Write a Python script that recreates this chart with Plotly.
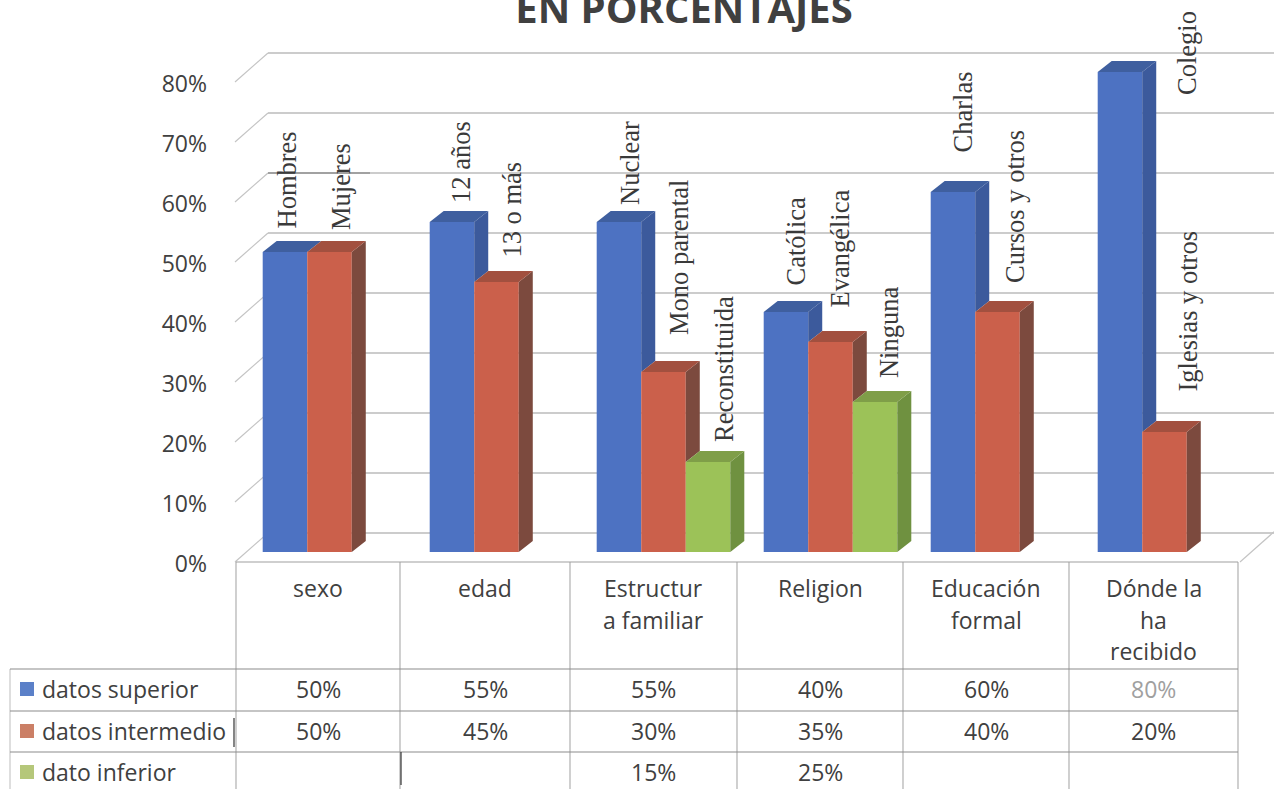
import plotly.graph_objects as go

# ---- data ----
categories = [["sexo"], ["edad"], ["Estructur", "a familiar"], ["Religion"],
              ["Educación", "formal"], ["Dónde la", "ha", "recibido"]]
series_names = ["datos superior", "datos intermedio", "dato inferior"]
superior = [50, 55, 55, 40, 60, 80]
intermedio = [50, 45, 30, 35, 40, 20]
inferior = [None, None, 15, 25, None, None]
labels_superior = ["Hombres", "12 años", "Nuclear", "Católica", "Charlas", "Colegio"]
labels_intermedio = ["Mujeres", "13 o más", "Mono parental", "Evangélica", "Cursos y otros", "Iglesias y otros"]
labels_inferior = [None, None, "Reconstituida", "Ninguna", None, None]
y_ticks = [0, 10, 20, 30, 40, 50, 60, 70, 80]

# ---- styling / layout constants ----
W, H = 1274, 789
series = [superior, intermedio, inferior]
labels = [labels_superior, labels_intermedio, labels_inferior]
front = ["#4d72c2", "#cb604b", "#9cc258"]
top_c = ["#3f5f9f", "#a2503f", "#7f9e48"]
side_c = ["#3c5a9c", "#7c4a3e", "#6f9140"]
swatch = ["#5b80c8", "#cb7f66", "#b5c77a"]
# pixel nudges of the rotated labels relative to each bar top (per series, per group)
lab_dx = [[2, 9, 11, 10, 10, 67], [11, 15, 15, 9, 17, 23], [0, 0, 16, 14, 0, 0]]
lab_dy = [[22, 17, 15, 25, 38, -25], [20, 22, 35, 32, 27, 38], [0, 0, 18, 22, 0, 0]]

PLOT_L, PLOT_R, Y0_PX = 246, 1248, 552
PX_PER_UNIT = 6.0
BELOW_PX = 18
CAT_PX = (PLOT_R - PLOT_L) / 6
BAR_W = 0.8 / 3
DX = 14 / CAT_PX
DY = 11 / PX_PER_UNIT
BACK = 19 / PX_PER_UNIT
FRONT = -10 / PX_PER_UNIT
TXT = "#404040"
SANS = "Open Sans"

px = lambda x: x / W
py = lambda y: 1 - y / H

fig = go.Figure()
xs = list(range(len(categories)))
for s, vals in enumerate(series):
    fig.add_trace(go.Bar(x=xs, y=vals, name=series_names[s], marker=dict(color=front[s], line_width=0),
                         hoverinfo="y"))

# 3-D faces derived from the data
for s, vals in enumerate(series):
    sx, sy, tx, ty = [], [], [], []
    for i, v in zip(xs, vals):
        if v is None:
            continue
        c = i + (s - 1) * BAR_W
        xl, xr = c - BAR_W / 2, c + BAR_W / 2
        nxt = series[s + 1][i] if s < 2 else None
        low = nxt if nxt is not None else 0
        sx += [xr, xr + DX, xr + DX, xr, xr, None]
        sy += [v, v + DY, low + DY, low, v, None]
        tx += [xl, xl + DX, xr + DX, xr, xl, None]
        ty += [v, v + DY, v + DY, v, v, None]
    for X, Y, col in ((sx, sy, side_c[s]), (tx, ty, top_c[s])):
        fig.add_trace(go.Scatter(x=X, y=Y, mode="lines", fill="toself", fillcolor=col,
                                 line=dict(width=0, color=col), hoverinfo="skip", showlegend=False))

shapes = []
for v in y_ticks:
    shapes.append(dict(type="line", xref="paper", yref="y", x0=px(268), x1=1, y0=v + BACK, y1=v + BACK,
                       line=dict(color="#9a9a9a", width=1.2), layer="below"))
    shapes.append(dict(type="line", xref="paper", yref="y", x0=px(235), x1=px(268), y0=v + FRONT, y1=v + BACK,
                       line=dict(color="#c4c4c4", width=1.2), layer="below"))
shapes.append(dict(type="line", xref="paper", yref="y", x0=px(1240), x1=1, y0=FRONT, y1=BACK + 0.2,
                   line=dict(color="#c4c4c4", width=1.2), layer="below"))
# darker scan marks in the original
shapes.append(dict(type="line", xref="paper", yref="y", x0=px(268), x1=px(370), y0=60 + BACK, y1=60 + BACK,
                   line=dict(color="#777777", width=1.2), layer="below"))

# data table grid
grid_v = [236, 400, 570, 737, 903, 1069, 1238]
for x in grid_v:
    shapes.append(dict(type="line", xref="paper", yref="paper", x0=px(x), x1=px(x), y0=py(562), y1=0,
                       line=dict(color="#b0b0b0", width=1.2)))
shapes.append(dict(type="line", xref="paper", yref="paper", x0=px(10), x1=px(10), y0=py(669), y1=0,
                   line=dict(color="#c8c8c8", width=1.2)))
shapes.append(dict(type="line", xref="paper", yref="paper", x0=px(236), x1=px(1238), y0=py(562), y1=py(562),
                   line=dict(color="#a0a0a0", width=1.2)))
for y in (669, 711, 752):
    shapes.append(dict(type="line", xref="paper", yref="paper", x0=px(10), x1=px(1238), y0=py(y), y1=py(y),
                       line=dict(color="#8c8c8c", width=1.2)))
shapes.append(dict(type="line", xref="paper", yref="paper", x0=px(234), x1=px(234), y0=py(718), y1=py(747),
                   line=dict(color="#333333", width=1.2)))
shapes.append(dict(type="line", xref="paper", yref="paper", x0=px(401), x1=px(401), y0=py(752), y1=py(785),
                   line=dict(color="#333333", width=1.2)))

annotations = []
def cell(text, xc, yc, color=TXT, anchor="center", size=23):
    annotations.append(dict(text=text, xref="paper", yref="paper", x=px(xc), y=py(yc), showarrow=False,
                            xanchor=anchor, yanchor="middle", font=dict(family=SANS, size=size, color=color)))

centers = [(a + b) / 2 for a, b in zip(grid_v[:-1], grid_v[1:])]
for xc, lines in zip(centers, categories):
    for k, line in enumerate(lines):
        cell(line, xc, 588 + 31.5 * k)

row_y = [689, 731, 772]
for s, vals in enumerate(series):
    cell(series_names[s], 40, row_y[s], anchor="left")
    shapes.append(dict(type="rect", xref="paper", yref="paper", x0=px(20), x1=px(34),
                       y0=py(row_y[s] - 7), y1=py(row_y[s] + 7), fillcolor=swatch[s], line_width=0))
    for i, v in enumerate(vals):
        if v is not None:
            cell(f"{v}%", centers[i], row_y[s], color="#a0a0a0" if (s == 0 and i == 5) else TXT)

# rotated labels over the bars
for s, vals in enumerate(series):
    for i, v in enumerate(vals):
        if v is None:
            continue
        annotations.append(dict(text=labels[s][i], xref="x", yref="y", x=i + (s - 1) * BAR_W, y=v,
                                xshift=lab_dx[s][i], yshift=lab_dy[s][i], showarrow=False, textangle=-90,
                                xanchor="center", yanchor="bottom",
                                font=dict(family="Liberation Serif", size=26.5, color="#3a3a3a")))

fig.update_layout(
    width=W, height=H, margin=dict(l=0, r=0, t=0, b=0), showlegend=False,
    paper_bgcolor="white", plot_bgcolor="rgba(0,0,0,0)",
    barmode="group", bargap=0.2, bargroupgap=0,
    title=dict(text="<b>EN PORCENTAJES</b>", x=684 / W, xanchor="center", y=1 - 23 / H, yanchor="bottom",
               font=dict(family=SANS, size=40, color=TXT)),
    xaxis=dict(domain=[px(PLOT_L), px(PLOT_R)], range=[-0.5, 5.5], showticklabels=False, showgrid=False,
               zeroline=False, showline=False, ticks="", automargin=False),
    yaxis=dict(domain=[py(Y0_PX + BELOW_PX), 1], range=[-BELOW_PX / PX_PER_UNIT, Y0_PX / PX_PER_UNIT],
               tickvals=y_ticks, ticktext=[f"{v}%" for v in y_ticks], showgrid=False, zeroline=False,
               showline=False, ticks="", ticklabelstandoff=38, ticklabelshift=12, automargin=False,
               tickfont=dict(family=SANS, size=23, color=TXT)),
    shapes=shapes, annotations=annotations,
)
fig.write_html("out.html", config={"displayModeBar": False},
               post_script="document.body.style.margin='0';document.body.style.overflow='hidden';")
